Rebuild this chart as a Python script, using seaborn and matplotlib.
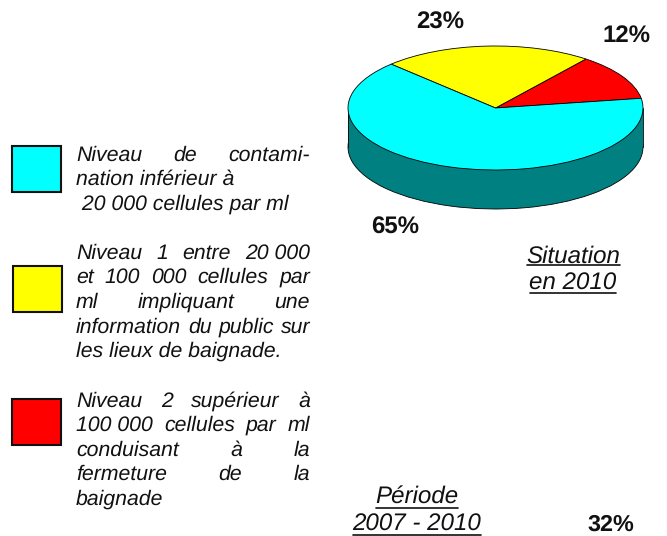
import matplotlib
matplotlib.use("Agg")
import matplotlib.pyplot as plt
import seaborn as sns
from matplotlib.patches import Rectangle

# data
slice_names = ["Niveau 2", "Niveau 1", "Niveau inférieur"]
slice_values = [12, 23, 65]
slice_labels = ["12%", "23%", "65%"]
period_label = "32%"
legend_lines_1 = ["Niveau|de|contami-", "nation inférieur à", " 20 000 cellules par ml"]
legend_lines_2 = ["Niveau|1|entre|20 000", "et|100|000|cellules|par", "ml|impliquant|une",
                  "information|du|public|sur", "les lieux de baignade."]
legend_lines_3 = ["Niveau|2|supérieur|à", "100 000|cellules|par|ml", "conduisant|à|la",
                  "fermeture|de|la", "baignade"]
top_colors = ["#ff0000", "#ffff00", "#00ffff"]
side_colors = ["#800000", "#808000", "#008080"]

sns.set_theme(style="white")
plt.rcParams["font.family"] = ["Liberation Sans", "DejaVu Sans"]
plt.rcParams["text.hinting"] = "no_hinting"

W, H = 667, 536
fig = plt.figure(figsize=(W / 100, H / 100), dpi=100, facecolor="white")

# pie axes, placed in pixels
cx, cy, rx, ry, depth = 495.5, 108, 147.5, 62, 39
d = depth / ry
ax = fig.add_axes([(cx - rx) / W, 1 - (cy + ry + depth) / H, 2 * rx / W, (2 * ry + depth) / H])
edge = dict(edgecolor="black", linewidth=0.6)
ax.pie(slice_values, colors=side_colors, startangle=9, center=(0, -d), radius=1,
       wedgeprops=edge, frame=False)
ax.add_patch(Rectangle((-1, -d), 2, d, facecolor="#008080", edgecolor="none", zorder=1.5))
ax.plot([-1, -1], [-d, 0], color="black", lw=0.6, zorder=1.6, clip_on=False)
ax.plot([1, 1], [-d, 0], color="black", lw=0.6, zorder=1.6, clip_on=False)
wedges, _ = ax.pie(slice_values, colors=top_colors, startangle=9, center=(0, 0), radius=1,
                   wedgeprops=edge, frame=False)
for w in wedges:
    w.set_zorder(3)
ax.set_aspect("auto")
ax.set_xlim(-1, 1)
ax.set_ylim(-1 - d, 1)
ax.axis("off")
for p in ax.patches:
    p.set_clip_on(False)

# overlay in pixel coordinates
ov = fig.add_axes([0, 0, 1, 1], facecolor="none")
ov.set_xlim(0, W)
ov.set_ylim(H, 0)
ov.axis("off")
renderer = fig.canvas.get_renderer()

LEFT, RIGHT = 76, 310
FS = 15.3
INK = "#111111"


def legend_line(line, y):
    words = line.split("|")
    if len(words) == 1:
        ov.text(LEFT, y, line, fontsize=FS, style="italic", va="center_baseline", ha="left", color=INK)
        return
    items = [ov.text(0, y, w, fontsize=FS, style="italic", va="center_baseline", ha="left", color=INK)
             for w in words]
    widths = [t.get_window_extent(renderer).width for t in items]
    gap = (RIGHT - LEFT - sum(widths)) / (len(words) - 1)
    x = LEFT
    for t, wd in zip(items, widths):
        t.set_x(x)
        x += wd + gap


for lines, ys in [(legend_lines_1, [153, 177, 202]),
                  (legend_lines_2, [251, 275, 300, 325, 349]),
                  (legend_lines_3, [399, 423, 448, 472, 497])]:
    for line, y in zip(lines, ys):
        legend_line(line, y)

for (x0, y0, x1, y1), col in zip([(12, 146, 61, 192), (13, 266, 62, 312), (12, 399, 61, 445)],
                                 ["#00ffff", "#ffff00", "#ff0000"]):
    ov.add_patch(Rectangle((x0, y0), x1 - x0, y1 - y0, facecolor=col, edgecolor=INK, linewidth=1.5))

for lab, (x, y) in zip(slice_labels, [(627, 33), (440, 20), (395, 225)]):
    ov.text(x, y, lab, fontsize=17.3, fontweight="bold", ha="center", va="center_baseline", color=INK)
ov.text(611, 522, period_label, fontsize=16.8, fontweight="bold", ha="center", va="center_baseline", color=INK)

for s, x, y, uy, wid in [("Situation", 573, 254, 265, 93), ("en 2010", 573, 281, 293, 86),
                         ("Période", 417, 494, 508, 82), ("2007 - 2010", 417, 522, 535, 128)]:
    ov.text(x, y, s, fontsize=17.4, style="italic", ha="center", va="center_baseline", color=INK)
    ov.plot([x - wid / 2, x + wid / 2], [uy, uy], color=INK, lw=1.2)

fig.savefig("out.png", dpi=100)
